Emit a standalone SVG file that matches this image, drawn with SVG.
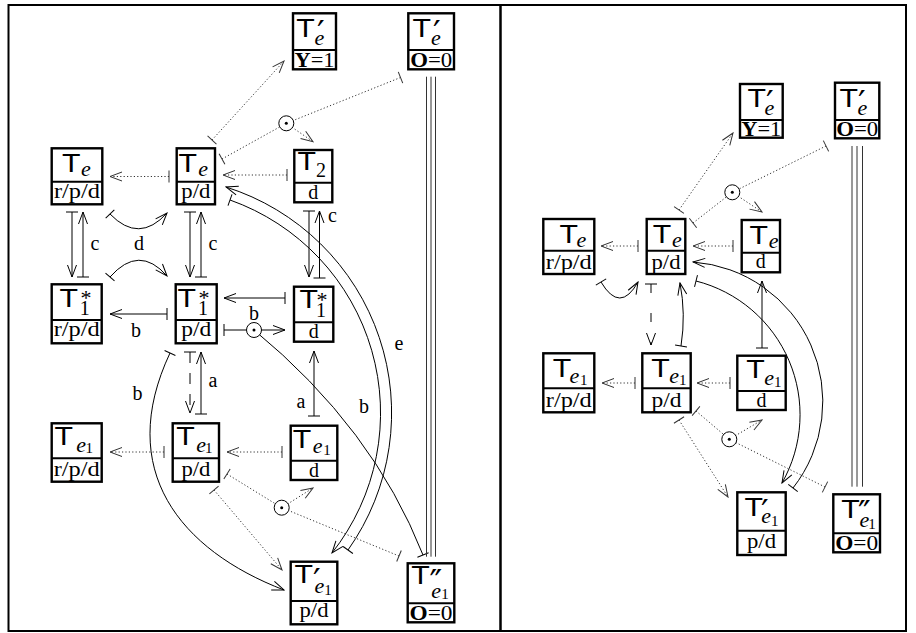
<svg xmlns="http://www.w3.org/2000/svg" width="916" height="633" viewBox="0 0 916 633">
<style>
.frame{fill:none;stroke:#000;stroke-width:2}
.box{fill:#fff;stroke:#000;stroke-width:2.4}
.div{stroke:#000;stroke-width:2}
.T{font-family:"Liberation Sans",Arial,sans-serif;font-size:25px}
.e{font-family:"Liberation Serif","Times New Roman",serif;font-style:italic;font-size:22px}
.one{font-family:"Liberation Serif","Times New Roman",serif;font-size:15px;font-style:normal}
.num{font-family:"Liberation Serif","Times New Roman",serif;font-size:20px}
.ast{font-family:"Liberation Serif","Times New Roman",serif;font-size:22px}
.pr{font-family:"DejaVu Sans",sans-serif;font-size:34px}
.val{font-family:"Liberation Serif","Times New Roman",serif;font-size:20px;text-anchor:middle}
.cond{font-family:"Liberation Serif","Times New Roman",serif;font-size:21px;text-anchor:middle}
.lbl{font-family:"Liberation Serif","Times New Roman",serif;font-size:20px;text-anchor:middle}
.sol{fill:none;stroke:#000;stroke-width:1}
.dot{fill:none;stroke:#333;stroke-width:1;stroke-dasharray:1.2 2.2}
.dash{stroke-dasharray:11 10}
.tri{stroke:#333;stroke-width:1}
.odot{fill:#fff;stroke:#000;stroke-width:1}
</style>
<defs>
<marker id="ah" viewBox="-13 -6 14 12" refX="0" refY="0" markerWidth="14" markerHeight="12" markerUnits="userSpaceOnUse" orient="auto-start-reverse"><path d="M-12,-4.5 Q-4,-1.5 0,0 Q-4,1.5 -12,4.5" fill="none" stroke="#000" stroke-width="1"/></marker>
<marker id="bar" viewBox="-2 -7 4 14" refX="0" refY="0" markerWidth="4" markerHeight="14" markerUnits="userSpaceOnUse" orient="auto"><path d="M0,-6 L0,6" stroke="#000" stroke-width="1"/></marker>
<marker id="ahg" viewBox="-13 -6 14 12" refX="0" refY="0" markerWidth="14" markerHeight="12" markerUnits="userSpaceOnUse" orient="auto-start-reverse"><path d="M-12,-4.5 Q-4,-1.5 0,0 Q-4,1.5 -12,4.5" fill="none" stroke="#333" stroke-width="1"/></marker>
<marker id="barg" viewBox="-2 -7 4 14" refX="0" refY="0" markerWidth="4" markerHeight="14" markerUnits="userSpaceOnUse" orient="auto"><path d="M0,-6 L0,6" stroke="#333" stroke-width="1"/></marker>
</defs>
<rect x="0" y="0" width="916" height="633" fill="#fff"/>
<rect class="frame" x="8.5" y="5" width="897.5" height="626"/>
<line x1="500.5" y1="5" x2="500.5" y2="631" stroke="#000" stroke-width="2.5"/>

<g id="connectors">
<!-- left panel dotted -->
<path class="dot" d="M212,140 L284,61" marker-start="url(#barg)" marker-end="url(#ahg)"/>
<path class="dot" d="M222,159 L286.3,123.3" marker-start="url(#barg)"/>
<path class="dot" d="M400.5,77.5 L286.3,123.3" marker-start="url(#barg)"/>
<path class="dot" d="M286.3,123.3 L313,141.7" marker-end="url(#ahg)"/>
<path class="dot" d="M287,175 L223,175" marker-start="url(#barg)" marker-end="url(#ahg)"/>
<path class="dot" d="M169,176.5 L110,176.5" marker-start="url(#barg)" marker-end="url(#ahg)"/>
<path class="dot" d="M282,452 L227,452" marker-start="url(#barg)" marker-end="url(#ahg)"/>
<path class="dot" d="M164,452 L110,452" marker-start="url(#barg)" marker-end="url(#ahg)"/>
<path class="dot" d="M227,474 L281.7,507.7" marker-start="url(#barg)"/>
<path class="dot" d="M281.7,507.7 L313,488" marker-end="url(#ahg)"/>
<path class="dot" d="M399,556 L281.7,507.7" marker-start="url(#barg)"/>
<path class="dot" d="M214,490 L282,570" marker-start="url(#barg)" marker-end="url(#ahg)"/>
<!-- left panel solid -->
<path class="sol" d="M72,212 L72,277" marker-start="url(#bar)" marker-end="url(#ah)"/>
<path class="sol" d="M83,277 L83,212" marker-start="url(#bar)" marker-end="url(#ah)"/>
<path class="sol" d="M190,212 L190,277" marker-start="url(#bar)" marker-end="url(#ah)"/>
<path class="sol" d="M201,277 L201,212" marker-start="url(#bar)" marker-end="url(#ah)"/>
<path class="sol" d="M309,211 L309,277" marker-start="url(#bar)" marker-end="url(#ah)"/>
<path class="sol" d="M319.5,278 L319.5,211" marker-start="url(#bar)" marker-end="url(#ah)"/>
<path class="sol" d="M110,214 Q139,244 167,213" marker-start="url(#bar)" marker-end="url(#ah)"/>
<path class="sol" d="M110,277 Q139,244 167,276" marker-start="url(#bar)" marker-end="url(#ah)"/>
<path class="sol" d="M167,314 L110,314" marker-start="url(#bar)" marker-end="url(#ah)"/>
<path class="sol" d="M285,298 L224,298" marker-start="url(#bar)" marker-end="url(#ah)"/>
<path class="sol" d="M224,330 L254,330" marker-start="url(#bar)"/>
<path class="sol" d="M254,330 L285,330" marker-end="url(#ah)"/>
<path class="sol" d="M254,330 Q373,428 423,555" marker-end="url(#bar)"/>
<path class="sol" d="M314,416 L314,351" marker-start="url(#bar)" marker-end="url(#ah)"/>
<path class="sol dash" d="M190,352 L190,413" marker-start="url(#bar)" marker-end="url(#ah)"/>
<path class="sol" d="M201,414 L201,352" marker-start="url(#bar)" marker-end="url(#ah)"/>
<path class="sol" d="M170,353 C115,470 180,550 284,590" marker-start="url(#bar)" marker-end="url(#ah)"/>
<path class="sol" d="M226,187 A237,237 0 0 1 348,550" marker-start="url(#ah)" marker-end="url(#bar)"/>
<path class="sol" d="M230,200 A226,226 0 0 1 332,553" marker-start="url(#bar)" marker-end="url(#ah)"/>
<line class="tri" x1="426.5" y1="76.7" x2="426.5" y2="556.7"/>
<line class="tri" x1="431" y1="76.7" x2="431" y2="556.7"/>
<line class="tri" x1="435.5" y1="76.7" x2="435.5" y2="556.7"/>
<g id="odot-l1"><circle class="odot" cx="286.3" cy="123.3" r="7.5"/><circle cx="286.3" cy="123.3" r="1.5"/></g>
<g id="odot-l2"><circle class="odot" cx="254" cy="330" r="7.5"/><circle cx="254" cy="330" r="1.5"/></g>
<g id="odot-l3"><circle class="odot" cx="281.7" cy="507.7" r="7.5"/><circle cx="281.7" cy="507.7" r="1.5"/></g>
<!-- labels left -->
<text class="lbl" x="95" y="250">c</text>
<text class="lbl" x="213" y="250">c</text>
<text class="lbl" x="332.5" y="222">c</text>
<text class="lbl" x="139" y="250">d</text>
<text class="lbl" x="136" y="337">b</text>
<text class="lbl" x="254" y="320">b</text>
<text class="lbl" x="213" y="387">a</text>
<text class="lbl" x="301" y="408">a</text>
<text class="lbl" x="137.5" y="400">b</text>
<text class="lbl" x="364" y="413">b</text>
<text class="lbl" x="399" y="350">e</text>

<!-- right panel dotted -->
<path class="dot" d="M679,210 L733,133" marker-start="url(#barg)" marker-end="url(#ahg)"/>
<path class="dot" d="M693,223 L732.3,192.3" marker-start="url(#barg)"/>
<path class="dot" d="M826,146 L732.3,192.3" marker-start="url(#barg)"/>
<path class="dot" d="M732.3,192.3 L762,212" marker-end="url(#ahg)"/>
<path class="dot" d="M733,246 L693,246" marker-start="url(#barg)" marker-end="url(#ahg)"/>
<path class="dot" d="M638,246 L601,246" marker-start="url(#barg)" marker-end="url(#ahg)"/>
<path class="dot" d="M730,383 L697,383" marker-start="url(#barg)" marker-end="url(#ahg)"/>
<path class="dot" d="M635,383 L602,383" marker-start="url(#barg)" marker-end="url(#ahg)"/>
<path class="dot" d="M696,411 L729.3,439.3" marker-start="url(#barg)"/>
<path class="dot" d="M729.3,439.3 L762,420" marker-end="url(#ahg)"/>
<path class="dot" d="M825,487 L729.3,439.3" marker-start="url(#barg)"/>
<path class="dot" d="M679,420 L728,497" marker-start="url(#barg)" marker-end="url(#ahg)"/>
<!-- right panel solid -->
<path class="sol" d="M601,282 Q620,314 638,282" marker-start="url(#bar)" marker-end="url(#ah)"/>
<path class="sol" d="M651,284 L651,345" stroke-dasharray="9 20" marker-start="url(#bar)" marker-end="url(#ah)"/>
<path class="sol" d="M681,346 Q686,314 680,283" marker-start="url(#bar)" marker-end="url(#ah)"/>
<path class="sol" d="M762,348 L762,281" marker-start="url(#bar)" marker-end="url(#ah)"/>
<path class="sol" d="M693,262 A140,140 0 0 1 793,488" marker-start="url(#ah)" marker-end="url(#bar)"/>
<path class="sol" d="M696,281 A138,138 0 0 1 782,483" marker-start="url(#bar)" marker-end="url(#ah)"/>
<line class="tri" x1="852" y1="146" x2="852" y2="486.7"/>
<line class="tri" x1="857" y1="146" x2="857" y2="486.7"/>
<line class="tri" x1="862.5" y1="146" x2="862.5" y2="486.7"/>
<g id="odot-r1"><circle class="odot" cx="732.3" cy="192.3" r="7.5"/><circle cx="732.3" cy="192.3" r="1.5"/></g>
<g id="odot-r2"><circle class="odot" cx="729.3" cy="439.3" r="7.5"/><circle cx="729.3" cy="439.3" r="1.5"/></g>
</g>

<!-- LEFT PANEL NODES -->
<g id="L-Tep-Y1">
<rect class="box" x="293" y="13.3" width="43" height="56"/><line class="div" x1="293" y1="50" x2="336" y2="50"/>
<text><tspan class="T" x="296.2" y="36.7" textLength="18.5" lengthAdjust="spacingAndGlyphs">T</tspan><tspan class="pr" x="317" y="44.8">′</tspan><tspan class="e" x="314.5" y="45">e</tspan></text>
<text class="cond" x="314.5" y="66.5" textLength="40" lengthAdjust="spacingAndGlyphs"><tspan font-weight="bold">Y</tspan>=1</text>
</g>
<g id="L-Tep-O0">
<rect class="box" x="408.3" y="13.3" width="45.7" height="56"/><line class="div" x1="408.3" y1="50" x2="454" y2="50"/>
<text><tspan class="T" x="412.5" y="36.7" textLength="18.5" lengthAdjust="spacingAndGlyphs">T</tspan><tspan class="pr" x="433" y="44.8">′</tspan><tspan class="e" x="431" y="45">e</tspan></text>
<text class="cond" x="431.2" y="66.5" textLength="42" lengthAdjust="spacingAndGlyphs"><tspan font-weight="bold">O</tspan>=0</text>
</g>
<g id="L-Te-rpd">
<rect class="box" x="51.7" y="148.3" width="50.6" height="56"/><line class="div" x1="51.7" y1="181.7" x2="102.3" y2="181.7"/>
<text><tspan class="T" x="62" y="171.7" textLength="18.5" lengthAdjust="spacingAndGlyphs">T</tspan><tspan class="e" x="81" y="175.7">e</tspan></text>
<text class="val" x="77" y="197.5" textLength="46" lengthAdjust="spacingAndGlyphs">r/p/d</text>
</g>
<g id="L-Te-pd">
<rect class="box" x="176.7" y="148.3" width="38.3" height="56"/><line class="div" x1="176.7" y1="181.7" x2="215" y2="181.7"/>
<text><tspan class="T" x="178.5" y="171.7" textLength="18.5" lengthAdjust="spacingAndGlyphs">T</tspan><tspan class="e" x="198.2" y="175.7">e</tspan></text>
<text class="val" x="195.8" y="197.5" textLength="29" lengthAdjust="spacingAndGlyphs">p/d</text>
</g>
<g id="L-T2-d">
<rect class="box" x="294.3" y="150" width="38" height="52.3"/><line class="div" x1="294.3" y1="182.7" x2="332.3" y2="182.7"/>
<text><tspan class="T" x="297.5" y="170" textLength="18.5" lengthAdjust="spacingAndGlyphs">T</tspan><tspan class="num" x="316" y="176.7">2</tspan></text>
<text class="val" x="313.3" y="198.5">d</text>
</g>
<g id="L-T1s-rpd">
<rect class="box" x="51.7" y="284.3" width="50" height="59"/><line class="div" x1="51.7" y1="320" x2="101.7" y2="320"/>
<text><tspan class="T" x="59.5" y="306.7" textLength="18.5" lengthAdjust="spacingAndGlyphs">T</tspan><tspan class="ast" x="80.5" y="305">*</tspan><tspan class="num" x="79.7" y="315">1</tspan></text>
<text class="val" x="76.7" y="336" textLength="46" lengthAdjust="spacingAndGlyphs">r/p/d</text>
</g>
<g id="L-T1s-pd">
<rect class="box" x="175.7" y="284.3" width="41" height="59"/><line class="div" x1="175.7" y1="320" x2="216.7" y2="320"/>
<text><tspan class="T" x="177.5" y="306.7" textLength="18.5" lengthAdjust="spacingAndGlyphs">T</tspan><tspan class="ast" x="198.5" y="305">*</tspan><tspan class="num" x="198" y="315">1</tspan></text>
<text class="val" x="196.2" y="336" textLength="30" lengthAdjust="spacingAndGlyphs">p/d</text>
</g>
<g id="L-T1s-d">
<rect class="box" x="294" y="286.7" width="39.3" height="55"/><line class="div" x1="294" y1="322.3" x2="333.3" y2="322.3"/>
<text><tspan class="T" x="299.5" y="308.3" textLength="18.5" lengthAdjust="spacingAndGlyphs">T</tspan><tspan class="ast" x="316.5" y="306.6">*</tspan><tspan class="num" x="316" y="316.7">1</tspan></text>
<text class="val" x="313.7" y="338">d</text>
</g>
<g id="L-Te1-rpd">
<rect class="box" x="51.7" y="423.3" width="50" height="58.4"/><line class="div" x1="51.7" y1="458.3" x2="101.7" y2="458.3"/>
<text><tspan class="T" x="54.5" y="445" textLength="18.5" lengthAdjust="spacingAndGlyphs">T</tspan><tspan class="e" x="76.2" y="451.7">e</tspan><tspan class="one" x="85.6" y="453">1</tspan></text>
<text class="val" x="76.7" y="476" textLength="46" lengthAdjust="spacingAndGlyphs">r/p/d</text>
</g>
<g id="L-Te1-pd">
<rect class="box" x="172.7" y="423.3" width="46.3" height="58.4"/><line class="div" x1="172.7" y1="458.3" x2="219" y2="458.3"/>
<text><tspan class="T" x="176.2" y="445" textLength="18.5" lengthAdjust="spacingAndGlyphs">T</tspan><tspan class="e" x="196.2" y="451.7">e</tspan><tspan class="one" x="205" y="453">1</tspan></text>
<text class="val" x="195.9" y="476" textLength="29" lengthAdjust="spacingAndGlyphs">p/d</text>
</g>
<g id="L-Te1-d">
<rect class="box" x="290.7" y="425.7" width="46.6" height="54.3"/><line class="div" x1="290.7" y1="460.7" x2="337.3" y2="460.7"/>
<text><tspan class="T" x="292.8" y="448.3" textLength="18.5" lengthAdjust="spacingAndGlyphs">T</tspan><tspan class="e" x="312.8" y="452.7">e</tspan><tspan class="one" x="323.3" y="455">1</tspan></text>
<text class="val" x="314" y="476.5">d</text>
</g>
<g id="L-Tep1-pd">
<rect class="box" x="290.7" y="561.7" width="46.6" height="62.6"/><line class="div" x1="290.7" y1="601" x2="337.3" y2="601"/>
<text><tspan class="T" x="294.5" y="583" textLength="18.5" lengthAdjust="spacingAndGlyphs">T</tspan><tspan class="pr" x="313" y="593">′</tspan><tspan class="e" x="314.5" y="593">e</tspan><tspan class="one" x="324.3" y="595">1</tspan></text>
<text class="val" x="314" y="616.5" textLength="29" lengthAdjust="spacingAndGlyphs">p/d</text>
</g>
<g id="L-Tepp1-O0">
<rect class="box" x="407.7" y="563.3" width="46.6" height="59"/><line class="div" x1="407.7" y1="603.3" x2="454.3" y2="603.3"/>
<text><tspan class="T" x="411.2" y="584" textLength="18.5" lengthAdjust="spacingAndGlyphs">T</tspan><tspan class="pr" x="429.5" y="594.4">″</tspan><tspan class="e" x="431.2" y="598">e</tspan><tspan class="one" x="441.3" y="599">1</tspan></text>
<text class="cond" x="431" y="620" textLength="43" lengthAdjust="spacingAndGlyphs"><tspan font-weight="bold">O</tspan>=0</text>
</g>

<!-- RIGHT PANEL NODES -->
<g id="R-Tep-Y1">
<rect class="box" x="740" y="84" width="42.7" height="53.7"/><line class="div" x1="740" y1="120" x2="782.7" y2="120"/>
<text><tspan class="T" x="747.5" y="106.7" textLength="18.5" lengthAdjust="spacingAndGlyphs">T</tspan><tspan class="pr" x="766" y="114.8">′</tspan><tspan class="e" x="764.5" y="115">e</tspan></text>
<text class="cond" x="761.3" y="135.5" textLength="40" lengthAdjust="spacingAndGlyphs"><tspan font-weight="bold">Y</tspan>=1</text>
</g>
<g id="R-Tep-O0">
<rect class="box" x="835" y="82.7" width="44.3" height="55.6"/><line class="div" x1="835" y1="120" x2="879.3" y2="120"/>
<text><tspan class="T" x="839.5" y="106.7" textLength="18.5" lengthAdjust="spacingAndGlyphs">T</tspan><tspan class="pr" x="858" y="114.8">′</tspan><tspan class="e" x="857.5" y="115">e</tspan></text>
<text class="cond" x="857.2" y="135.5" textLength="42" lengthAdjust="spacingAndGlyphs"><tspan font-weight="bold">O</tspan>=0</text>
</g>
<g id="R-Te-rpd">
<rect class="box" x="543.3" y="219" width="51" height="55"/><line class="div" x1="543.3" y1="250.7" x2="594.3" y2="250.7"/>
<text><tspan class="T" x="559.5" y="243.3" textLength="18.5" lengthAdjust="spacingAndGlyphs">T</tspan><tspan class="e" x="576.5" y="246.7">e</tspan></text>
<text class="val" x="568.8" y="268.5" textLength="46" lengthAdjust="spacingAndGlyphs">r/p/d</text>
</g>
<g id="R-Te-pd">
<rect class="box" x="646.7" y="219" width="38.6" height="55"/><line class="div" x1="646.7" y1="250.7" x2="685.3" y2="250.7"/>
<text><tspan class="T" x="652.8" y="243.3" textLength="18.5" lengthAdjust="spacingAndGlyphs">T</tspan><tspan class="e" x="672" y="246.7">e</tspan></text>
<text class="val" x="666" y="268.5" textLength="29" lengthAdjust="spacingAndGlyphs">p/d</text>
</g>
<g id="R-Te-d">
<rect class="box" x="741.7" y="220" width="38.3" height="52.3"/><line class="div" x1="741.7" y1="252.7" x2="780" y2="252.7"/>
<text><tspan class="T" x="749.5" y="244" textLength="18.5" lengthAdjust="spacingAndGlyphs">T</tspan><tspan class="e" x="768.7" y="247.5">e</tspan></text>
<text class="val" x="760.8" y="268">d</text>
</g>
<g id="R-Te1-rpd">
<rect class="box" x="543.3" y="353.3" width="51" height="59"/><line class="div" x1="543.3" y1="388.3" x2="594.3" y2="388.3"/>
<text><tspan class="T" x="552.8" y="376.7" textLength="18.5" lengthAdjust="spacingAndGlyphs">T</tspan><tspan class="e" x="569.5" y="383">e</tspan><tspan class="one" x="580" y="385">1</tspan></text>
<text class="val" x="568.8" y="407" textLength="46" lengthAdjust="spacingAndGlyphs">r/p/d</text>
</g>
<g id="R-Te1-pd">
<rect class="box" x="642.3" y="353.3" width="48.4" height="59"/><line class="div" x1="642.3" y1="388.3" x2="690.7" y2="388.3"/>
<text><tspan class="T" x="651.2" y="376.7" textLength="18.5" lengthAdjust="spacingAndGlyphs">T</tspan><tspan class="e" x="669.2" y="383">e</tspan><tspan class="one" x="679" y="385">1</tspan></text>
<text class="val" x="666.5" y="407" textLength="30" lengthAdjust="spacingAndGlyphs">p/d</text>
</g>
<g id="R-Te1-d">
<rect class="box" x="737.3" y="355.7" width="48.4" height="54.3"/><line class="div" x1="737.3" y1="391" x2="785.7" y2="391"/>
<text><tspan class="T" x="746.2" y="378.3" textLength="18.5" lengthAdjust="spacingAndGlyphs">T</tspan><tspan class="e" x="764.2" y="384.5">e</tspan><tspan class="one" x="774" y="386.5">1</tspan></text>
<text class="val" x="761.5" y="406.5">d</text>
</g>
<g id="R-Tep1-pd">
<rect class="box" x="737.3" y="492.3" width="48.4" height="62.7"/><line class="div" x1="737.3" y1="530.7" x2="785.7" y2="530.7"/>
<text><tspan class="T" x="744.5" y="516" textLength="18.5" lengthAdjust="spacingAndGlyphs">T</tspan><tspan class="pr" x="761" y="523.8">′</tspan><tspan class="e" x="761.2" y="523.3">e</tspan><tspan class="one" x="771" y="526">1</tspan></text>
<text class="val" x="761.5" y="548" textLength="29" lengthAdjust="spacingAndGlyphs">p/d</text>
</g>
<g id="R-Tepp1-O0">
<rect class="box" x="833.3" y="494.3" width="46.7" height="58"/><line class="div" x1="833.3" y1="533.3" x2="880" y2="533.3"/>
<text><tspan class="T" x="841.2" y="518.3" textLength="18.5" lengthAdjust="spacingAndGlyphs">T</tspan><tspan class="pr" x="858" y="525.4">″</tspan><tspan class="e" x="859.5" y="527">e</tspan><tspan class="one" x="868.3" y="529">1</tspan></text>
<text class="cond" x="856.7" y="550" textLength="43" lengthAdjust="spacingAndGlyphs"><tspan font-weight="bold">O</tspan>=0</text>
</g>
</svg>
